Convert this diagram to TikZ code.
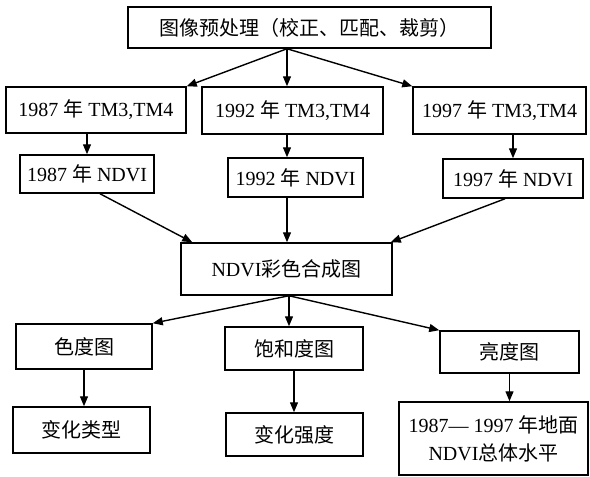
\documentclass[tikz,border=0pt]{standalone}
\usepackage{fontspec}
\setmainfont{Liberation Serif}
\newfontfamily\cjk{Noto Sans CJK SC}
\usetikzlibrary{arrows.meta}
\begin{document}
\begin{tikzpicture}[x=1pt,y=-1pt,
  box/.style={draw, line width=1.5pt, inner sep=0pt, font=\fontsize{20}{28}\selectfont, align=center},
  arr/.style={line width=1.4pt, -{Triangle[length=10pt,width=8pt]}}]
\useasboundingbox[fill=white] (0,0) rectangle (590,477);
\node[box, minimum width=363pt, minimum height=41pt] (A) at (309.5,27.5) {\cjk 图像预处理（校正、匹配、裁剪）};
\node[box, minimum width=180pt, minimum height=46pt] (B1) at (96,110) {1987 {\cjk 年} TM3,TM4};
\node[box, minimum width=181pt, minimum height=47pt] (B2) at (292.5,110.5) {1992 {\cjk 年} TM3,TM4};
\node[box, minimum width=173pt, minimum height=47pt] (B3) at (499.5,110.5) {1997 {\cjk 年} TM3,TM4};
\node[box, minimum width=134pt, minimum height=38pt] (C1) at (87,174) {1987 {\cjk 年} NDVI};
\node[box, minimum width=135pt, minimum height=39pt] (C2) at (295.5,177.5) {1992 {\cjk 年} NDVI};
\node[box, minimum width=140pt, minimum height=39pt] (C3) at (513,178.5) {1997 {\cjk 年} NDVI};
\node[box, minimum width=211pt, minimum height=52pt] (D) at (286.5,269) {NDVI{\cjk 彩色合成图}};
\node[box, minimum width=136pt, minimum height=45pt] (E1) at (84,346.5) {\cjk 色度图};
\node[box, minimum width=138pt, minimum height=43pt] (E2) at (294,348.5) {\cjk 饱和度图};
\node[box, minimum width=139pt, minimum height=42pt] (E3) at (509.5,352) {\cjk 亮度图};
\node[box, minimum width=137pt, minimum height=46pt] (F1) at (81.5,430) {\cjk 变化类型};
\node[box, minimum width=137pt, minimum height=43pt] (F2) at (294.5,434.5) {\cjk 变化强度};
\node[box, minimum width=189pt, minimum height=73pt] (F3) at (493.5,438.5) {1987— 1997 {\cjk 年地面}\\NDVI{\cjk 总体水平}};
\coordinate (a0) at ([xshift=-22.5pt]A.south);
\coordinate (d0) at ([xshift=2.5pt]D.south);
\draw[arr] (a0) -- (B1.north east);
\draw[arr] (a0) -- (a0 |- B2.north);
\draw[arr] (a0) -- (B3.north west);
\draw[arr] (C1.north |- B1.south) -- (C1.north);
\draw[arr] (a0 |- B2.south) -- (a0 |- C2.north);
\draw[arr] (C3.north |- B3.south) -- (C3.north);
\draw[arr] ([xshift=13pt]C1.south) -- ([xshift=12pt]D.north west);
\draw[arr] (a0 |- C2.south) -- (a0 |- D.north);
\draw[arr] ([xshift=-8pt]C3.south) -- ([xshift=-2pt]D.north east);
\draw[arr] (d0) -- (E1.north east);
\draw[arr] (d0) -- (d0 |- E2.north);
\draw[arr] (d0) -- (E3.north west);
\draw[arr] (E1.south) -- (E1.south |- F1.north);
\draw[arr] (E2.south) -- (E2.south |- F2.north);
\draw[arr] (E3.south) -- (E3.south |- F3.north);
\end{tikzpicture}
\end{document}
